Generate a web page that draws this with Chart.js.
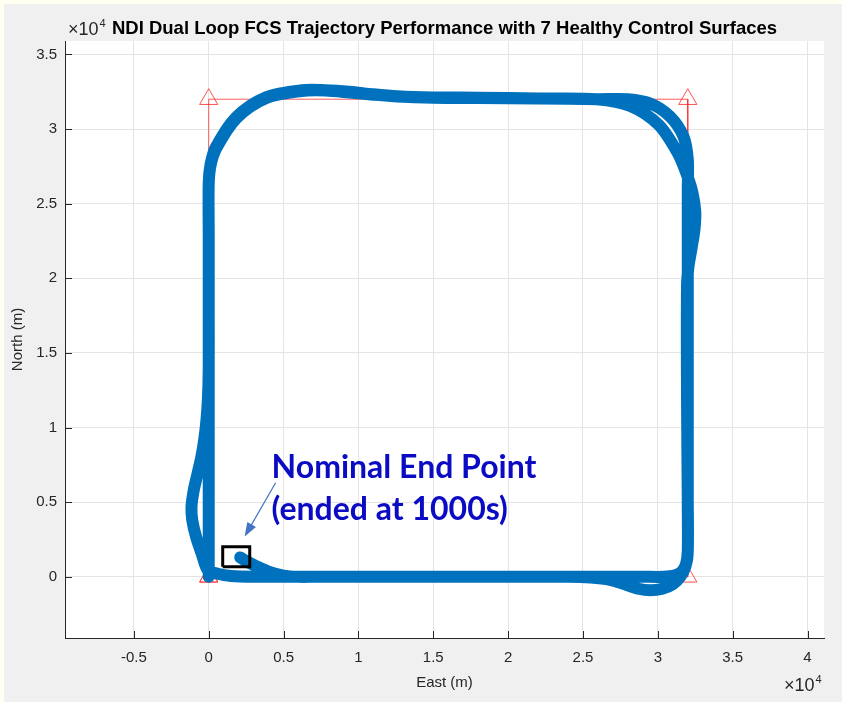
<!DOCTYPE html>
<html>
<head>
<meta charset="utf-8">
<title>NDI Dual Loop FCS Trajectory</title>
<script src="https://cdn.jsdelivr.net/npm/chart.js@4.4.1/dist/chart.umd.min.js"></script>
<style>
html, body { margin: 0; padding: 0; background: #fffff2; }
canvas { display: block; }
</style>
</head>
<body>
<canvas id="traj" width="842" height="702"></canvas>
<script>
// flown path, metres (east, north) - two laps round the box
const trajEast = [
  // lap 1: up the west leg
  0, 0, 0, 0, 0, 0, 120,
  470, 1820, 3830, 6200, 7800, 9400, 11000, 12600, 15000, 18000, 22000, 26000, 28000,
  // wide NE corner
  29530, 30830, 31700, 32000, 32000,
  // east leg and SE corner
  32000, 32000, 32000, 32000, 31900, 31600, 31100, 30400, 29000,
  // south leg
  25000, 20000, 15000, 10000, 6000, 3000, 1500, 600,
  // overshoot past SW corner
  -70, -450, -850, -1100, -1150, -1000, -750, -500, -300, -150, -50, 0,
  // lap 2
  0, 0, 0, 120, 500, 1850, 3850, 6200, 7800, 9400, 11000, 12600, 15000, 18000, 22000, 25900,
  // tight NE corner running into the bulge
  28160, 30070, 31350, 31920, 32300, 32500, 32450, 32250, 32050, 31950, 31950, 32000, 32000,
  // SE dip
  31850, 31500, 31000, 30300, 29500, 28700, 27800, 26800, 25500, 24000,
  // back west to the end point
  20000, 15000, 10000, 7000, 6000, 5000, 4000, 3200, 2600, 2100
];
const trajNorth = [
  0, 6000, 12000, 18000, 23000, 26400, 27610,
  28770, 30780, 32130, 32600, 32600, 32500, 32330, 32200, 32120, 32100, 32050, 32000, 32000,
  31700, 30830, 29530, 28000, 26000,
  20000, 12000, 5000, 1700, 900, 350, 80, 0, 0,
  0, 0, 0, 0, 0, 0, 50, 200,
  470, 1500, 2700, 3800, 4700, 5800, 6900, 8000, 9200, 10500, 12000, 14000,
  18000, 23000, 26300, 27550, 28700, 30720, 32080, 32550, 32580, 32450, 32300, 32180, 32100, 32080, 32050, 32000,
  31550, 30270, 28360, 27000, 25800, 24500, 23300, 22000, 20800, 19500, 12000, 5000, 1700,
  700, 0, -500, -800, -900, -800, -500, -200, -50, 0,
  0, 0, 0, 0, 0, 80, 350, 700, 1000, 1300
];

// commanded waypoints
const wpEast = [0, 0, 32000, 32000, 0];
const wpNorth = [0, 32000, 32000, 0, 0];

// box round the end point
const boxEast = [935, 2740, 2740, 935, 935];
const boxNorth = [670, 670, 2010, 2010, 670];

const xTicks = [-5000, 0, 5000, 10000, 15000, 20000, 25000, 30000, 35000, 40000];
const yTicks = [0, 5000, 10000, 15000, 20000, 25000, 30000, 35000];

const note = { east: 4200, north: 6640, lines: ['Nominal End Point', '(ended at 1000s)'] };
const arrow = { fromEast: 4470, fromNorth: 6300, toEast: 2400, toNorth: 2700 };

function pts(xs, ys) {
  return xs.map((x, i) => ({ x: x, y: ys[i] }));
}

const axisColor = '#262626';

const frame = {
  id: 'frame',
  beforeDraw(chart) {
    const c = chart.ctx, a = chart.chartArea;
    c.save();
    c.fillStyle = '#fffff2';
    c.fillRect(0, 0, chart.width, chart.height);
    c.fillStyle = '#f0f0f0';
    c.fillRect(4, 4, chart.width - 4, chart.height - 4);
    c.fillStyle = '#ffffff';
    c.fillRect(a.left, a.top, a.right - a.left, a.bottom - a.top);
    c.restore();
  }
};

const labels = {
  id: 'labels',
  afterDatasetsDraw(chart) {
    const c = chart.ctx, xs = chart.scales.x, ys = chart.scales.y;
    // arrow
    const x1 = xs.getPixelForValue(arrow.fromEast), y1 = ys.getPixelForValue(arrow.fromNorth);
    const x2 = xs.getPixelForValue(arrow.toEast), y2 = ys.getPixelForValue(arrow.toNorth);
    const ang = Math.atan2(y2 - y1, x2 - x1);
    c.save();
    c.strokeStyle = '#4472c4';
    c.fillStyle = '#4472c4';
    c.lineWidth = 1.2;
    c.beginPath();
    c.moveTo(x1, y1);
    c.lineTo(x2 - 10 * Math.cos(ang), y2 - 10 * Math.sin(ang));
    c.stroke();
    c.beginPath();
    c.moveTo(x2, y2);
    c.lineTo(x2 - 14 * Math.cos(ang) + 5 * Math.sin(ang), y2 - 14 * Math.sin(ang) - 5 * Math.cos(ang));
    c.lineTo(x2 - 14 * Math.cos(ang) - 5 * Math.sin(ang), y2 - 14 * Math.sin(ang) + 5 * Math.cos(ang));
    c.closePath();
    c.fill();
    // note text
    c.fillStyle = '#0b0bc4';
    c.font = 'bold 32px Lato';
    c.textAlign = 'left';
    c.textBaseline = 'alphabetic';
    const tx = xs.getPixelForValue(note.east), ty = ys.getPixelForValue(note.north);
    note.lines.forEach((s, i) => c.fillText(s, tx, ty + i * 42));
    c.restore();
  },
  afterDraw(chart) {
    const c = chart.ctx, a = chart.chartArea, xs = chart.scales.x, ys = chart.scales.y;
    c.save();
    // inward tick marks
    c.strokeStyle = axisColor;
    c.lineWidth = 1;
    c.beginPath();
    xTicks.forEach(v => {
      const px = Math.round(xs.getPixelForValue(v)) + 0.5;
      c.moveTo(px, a.bottom); c.lineTo(px, a.bottom - 7);
    });
    yTicks.forEach(v => {
      const py = Math.round(ys.getPixelForValue(v)) + 0.5;
      c.moveTo(a.left, py); c.lineTo(a.left + 7, py);
    });
    c.stroke();

    c.fillStyle = '#000';
    c.font = 'bold 18.5px "Liberation Sans"';
    c.textAlign = 'center';
    c.textBaseline = 'alphabetic';
    c.fillText('NDI Dual Loop FCS Trajectory Performance with 7 Healthy Control Surfaces', (a.left + a.right) / 2, 34);

    c.fillStyle = axisColor;
    c.font = '15px "Liberation Sans"';
    c.textBaseline = 'middle';
    c.fillText('East (m)', (a.left + a.right) / 2, 683);
    c.save();
    c.translate(18, (a.top + a.bottom) / 2);
    c.rotate(-Math.PI / 2);
    c.fillText('North (m)', 0, 0);
    c.restore();

    // exponent markers
    const expo = (x, y) => {
      c.textAlign = 'left';
      c.textBaseline = 'alphabetic';
      c.font = '18px "Liberation Sans"';
      c.fillText('\u00d710', x, y);
      const w = c.measureText('\u00d710').width;
      c.font = '11px "Liberation Sans"';
      c.fillText('4', x + w + 1, y - 8);
    };
    expo(68, 35);
    expo(784, 691);
    c.restore();
  }
};

function tickScale(list) {
  return scale => { scale.ticks = list.map(v => ({ value: v })); };
}

new Chart(document.getElementById('traj'), {
  type: 'scatter',
  data: {
    datasets: [
      {
        label: 'End box',
        data: pts(boxEast, boxNorth),
        showLine: true,
        borderColor: '#000',
        borderWidth: 3,
        pointRadius: 0,
        tension: 0,
        order: 0
      },
      {
        label: 'Trajectory',
        data: pts(trajEast, trajNorth),
        showLine: true,
        borderColor: '#0072bd',
        borderWidth: 12,
        borderJoinStyle: 'round',
        borderCapStyle: 'round',
        pointRadius: 0,
        tension: 0.3,
        order: 1
      },
      {
        label: 'Waypoints',
        data: pts(wpEast, wpNorth),
        showLine: true,
        borderColor: 'rgba(255, 40, 40, 0.75)',
        borderWidth: 1,
        pointStyle: 'triangle',
        pointRadius: 10.5,
        pointBorderColor: 'rgba(255, 40, 40, 0.8)',
        pointBackgroundColor: 'rgba(0, 0, 0, 0)',
        pointBorderWidth: 1,
        tension: 0,
        order: 2
      }
    ]
  },
  options: {
    responsive: false,
    animation: false,
    devicePixelRatio: 1,
    layout: { padding: { top: 41, right: 18, left: 0, bottom: 0 } },
    plugins: { legend: { display: false }, tooltip: { enabled: false }, title: { display: false } },
    scales: {
      x: {
        type: 'linear',
        min: -9600,
        max: 41100,
        afterBuildTicks: tickScale(xTicks),
        afterFit: s => { s.height = 64; },
        grid: { color: '#e4e4e4', drawTicks: false },
        border: { display: true, color: axisColor, width: 1 },
        ticks: {
          color: axisColor,
          font: { family: 'Liberation Sans', size: 15 },
          padding: 11,
          maxRotation: 0,
          callback: v => String(v / 10000)
        }
      },
      y: {
        type: 'linear',
        min: -4100,
        max: 35900,
        afterBuildTicks: tickScale(yTicks),
        afterFit: s => { s.width = 65; },
        grid: { color: '#e4e4e4', drawTicks: false },
        border: { display: true, color: axisColor, width: 1 },
        ticks: {
          color: axisColor,
          font: { family: 'Liberation Sans', size: 15 },
          padding: 8,
          callback: v => String(v / 10000)
        }
      }
    }
  },
  plugins: [frame, labels]
});
</script>
</body>
</html>
